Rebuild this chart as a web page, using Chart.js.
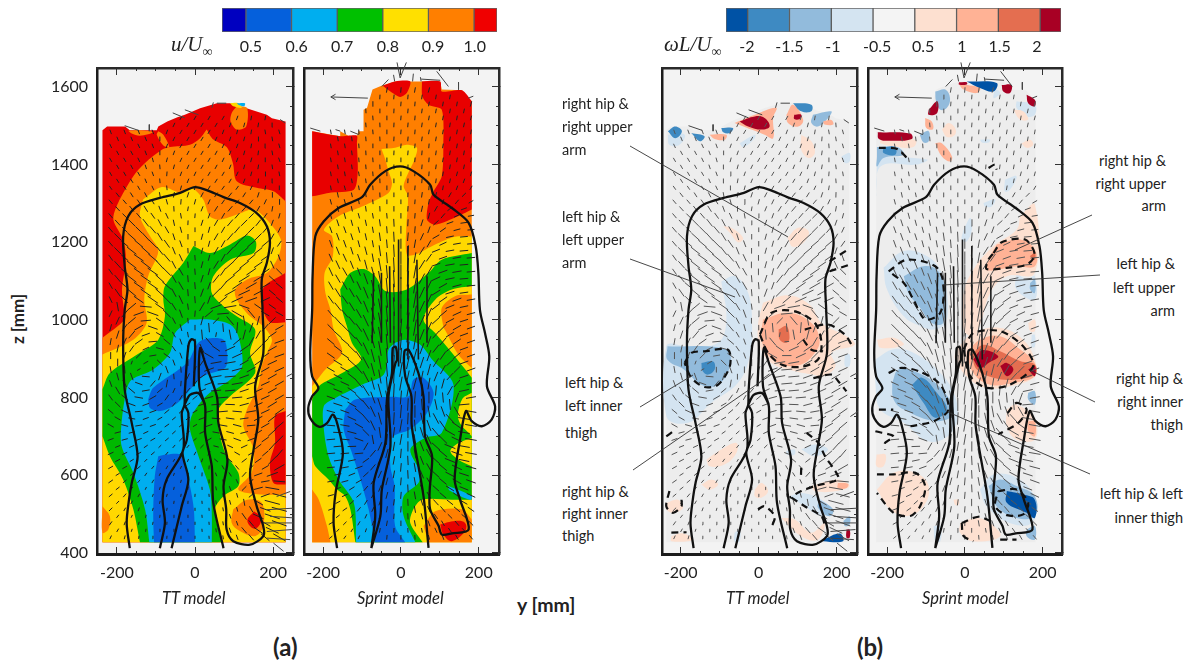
<!DOCTYPE html>
<html>
<head>
<meta charset="utf-8">
<title>Wake flow maps</title>
<script src="https://cdn.jsdelivr.net/npm/chart.js@4"></script>
<style>
    html, body { margin: 0; background: #fff; }
    #page { position: relative; width: 1189px; height: 663px; overflow: hidden; font-family: Lato, sans-serif; color: #222; }
    #page canvas { position: absolute; }
    #page svg { position: absolute; left: 0; top: 0; }
    .txt { position: absolute; white-space: nowrap; transform: translateY(-50%); }
    .note { font-size: 14.5px; }
    .math { font-family: "Liberation Serif", serif; font-style: italic; font-size: 21px; }
    .math sub { font-size: 14px; font-style: normal; }
</style>
</head>
<body>
<div id="page"></div>
<script>
// axes
const yTicks = [-200, 0, 200];
const yMinor = [-200, -150, -100, -50, 0, 50, 100, 150, 200];
const zTicks = [400, 600, 800, 1000, 1200, 1400, 1600];
const zMinor = [400, 450, 500, 550, 600, 650, 700, 750, 800, 850, 900, 950, 1000, 1050, 1100, 1150, 1200, 1250, 1300, 1350, 1400, 1450, 1500, 1550, 1600];

// colour bars
const uEdges = [0.4475, 0.5, 0.6, 0.7, 0.8, 0.9, 1.0, 1.0503];
const uColors = ['#0000c0', '#0560dc', '#00aeef', '#00c000', '#ffe000', '#ff7f00', '#f00000'];
const uTickPos = [0.511, 0.611, 0.711, 0.811, 0.910, 1.0015];
const uTickLabels = ['0.5', '0.6', '0.7', '0.8', '0.9', '1.0'];
const wEdges = [-0.52, 0, 1, 2, 3, 4, 5, 6, 7, 7.5];
const wColors = ['#0052a5', '#3e8ac2', '#92bbdc', '#d4e4f1', '#f4f4f4', '#fde0d0', '#ffb295', '#e46e50', '#a80024'];
const wTickPos = [-0.02, 1.0, 2.04, 3.1, 4.2, 5.13, 6.03, 6.92];
const wTickLabels = ['-2', '-1.5', '-1', '-0.5', '0.5', '1', '1.5', '2'];

// measurement area outlines, [y, z, y, z, ...] in mm
const ttOutline = [-237,427,-237,1488,-225,1498,-179,1498,-167,1488,-98,1488,-94,1498,-71,1511,-45,1522,-26,1528,13,1545,56,1558,90,1558,132,1545,184,1528,197,1519,232,1511,232,427];
const spOutline = [-228,427,-228,1486,-156,1473,-156,1486,-135,1474,-113,1474,-109,1486,-96,1486,-96,1541,-87,1546,-73,1593,-50,1603,-15,1614,101,1614,105,1593,157,1591,170,1576,182,1563,182,427];

// body silhouettes
const ttBody = [
    [-167,412,-175,477,-168,545,-162,580,-147,648,-162,734,-180,820,-184,940,-180,1026,-173,1078,-180,1138,-184,1215,-171,1267,-141,1297,-90,1314,-38,1327,0,1342,38,1331,73,1316,115,1301,158,1275,184,1241,192,1198,184,1147,171,1104,173,1026,175,914,154,829,162,743,150,666,141,597,158,520,175,468,175,443,141,421,98,430,81,460,80,511,73,571,83,640,60,734,56,803,26,889,13,927,11,829,26,777,26,708,43,623,47,528,73,412],
    [-90,412,-77,477,-83,537,-73,588,-30,666,-34,760,-27,781,-26,816,-17,932,-9,950,0,944,-3,829],
    [-60,412,-34,520,-17,588,-32,657,-21,691,-17,760,-27,781],
    [-27,781,-13,807,9,811,26,781]
];
const spBody = [
    [-164,412,-173,477,-168,554,-149,657,-164,734,-175,756,-190,734,-211,725,-233,747,-238,773,-228,803,-212,824,-228,854,-233,914,-228,1026,-227,1112,-220,1215,-198,1254,-160,1288,-100,1316,-79,1348,-40,1383,-2,1395,32,1383,75,1348,84,1322,131,1288,174,1250,192,1190,199,1121,203,1026,216,966,227,906,221,829,242,777,233,743,208,726,182,739,167,765,152,692,138,589,152,537,174,460,131,450,105,447,97,469,75,512,74,563,80,649,62,700,58,803,45,863,20,923,9,919,11,855,27,803,28,726,58,546,71,413],
    [-76,412,-66,494,-70,580,-40,683,-36,794,-23,863,-21,927,-13,930,-10,897,-14,889,-32,803,-27,674,-49,563,-53,494,-76,412]
];
const spStreaks = [
    [-70,1121,-74,940], [-50,1121,-50,941], [-29,1138,-27,941], [-6,1207,-6,880],
    [18,1190,18,898], [41,1155,45,898], [67,1112,67,941]
];

// stray long vectors at the edges of the measured area
const ttSpikes = [
    [-57,1533,-26,1520], [-26,1541,9,1528], [-180,1500,-145,1488], [-117,1503,-117,1486], [47,1560,43,1546], [56,1558,80,1558], [218,1516,231,1507],
    [184,511,252,515], [192,494,252,490], [175,477,252,477], [184,455,248,460], [184,438,244,434], [201,425,227,404], [209,545,244,558], [235,751,254,764], [235,854,252,863]
];
const spSpikes = [
    [-10,1663,-2,1623], [14,1663,-2,1623], [-19,1631,-16,1614], [32,1634,30,1614], [50,1625,52,1614], [52,1620,101,1617], [92,1640,122,1601],
    [148,1612,148,1593], [173,1571,186,1576], [-49,1601,-32,1619], [-233,1494,-207,1486], [-168,1490,-156,1486], [-130,1486,-108,1477],
    [-85,1571,-180,1574], [-180,1574,-168,1581], [-180,1574,-168,1567]
];

// u/Uinf contours, TT model
const ttUOrange = [
    [30,1490,45,1466,81,1445,97,1404,107,1357,158,1340,201,1331,232,1305,232,1305,232,1121,232,1121,175,1082,175,1026,192,994,232,994,232,994,232,427,232,427,-237,427,-237,427,-237,954,-237,954,-180,1001,-182,1026,-187,1078,-177,1155,-184,1207,-209,1258,-197,1301,-158,1370,-128,1404,-85,1438,-64,1445,-13,1451,13,1468],
    [107,1550,133,1546,131,1498,107,1490,91,1511,94,1533],
    [-171,1487,-141,1488,-107,1483,-141,1474,-162,1480],
    [-94,1486,-81,1477,-66,1445,-81,1449,-98,1477]
];
const ttURed = [[232,765,232,765,205,752,205,683,192,632,201,580,232,576,232,576]];
const ttUYellow = [
    [-133,1310,-85,1342,-34,1327,-9,1340,21,1310,38,1267,64,1258,107,1271,150,1284,184,1258,220,1207,214,1164,184,1121,133,1104,103,1078,107,1052,141,1009,175,983,197,949,184,915,171,881,162,829,133,769,124,726,150,666,145,606,111,563,167,550,232,550,232,550,232,427,232,427,-237,427,-237,427,-237,911,-237,911,-158,949,-124,992,-130,1052,-120,1112,-94,1177,-115,1215,-141,1267],
    [90,1558,111,1558,120,1546,98,1550]
];
const ttUOrange2 = [
    [98,512,133,537,171,529,175,469,154,443,115,456,94,477],
    [-237,520,-218,494,-222,460,-237,452]
];
const ttURed2 = [[151,507,171,490,154,462,134,482]];
const ttUGreen = [[-4,1190,38,1172,90,1194,133,1217,156,1202,150,1172,90,1155,47,1112,43,1069,73,1035,107,1009,154,975,141,915,154,863,90,803,60,769,60,726,77,658,111,606,111,572,73,546,51,512,68,427,68,427,-141,427,-141,427,-158,512,-184,589,-218,649,-237,700,-237,700,-237,821,-237,821,-218,863,-141,915,-94,949,-77,1009,-81,1052,-77,1087,-30,1147]];
const ttUSky = [
    [-13,1001,38,1001,90,988,111,958,121,881,90,846,38,812,13,786,-9,752,-13,718,9,649,38,563,43,503,43,427,43,427,-117,427,-117,427,-128,512,-158,606,-188,675,-188,735,-175,821,-162,846,-107,872,-64,915,-51,966],
    [107,1558,128,1558,126,1550,111,1554]
];
const ttUBlue = [
    [-120,795,-107,825,-21,889,13,945,73,949,83,906,77,876,21,855,-13,820,-26,803,-56,778,-90,765,-115,773],
    [-94,649,-73,653,-38,653,-26,623,-13,572,-3,512,0,427,0,427,-105,427,-105,427,-107,503,-103,597]
];

// u/Uinf contours, Sprint model
const spURed = [
    [-228,1486,-156,1473,-135,1474,-113,1474,-113,1455,-111,1378,-121,1335,-186,1327,-228,1318,-228,1318],
    [-47,1603,-15,1614,24,1614,15,1584,-2,1574,-27,1588],
    [54,1614,101,1614,105,1588,157,1591,182,1563,182,1563,182,1284,182,1284,147,1267,88,1245,67,1258,71,1301,84,1331,105,1370,109,1447,105,1541,71,1554,55,1576]
];
const spUYellow = [[-50,1440,-15,1443,15,1451,41,1443,35,1413,15,1370,7,1344,18,1318,14,1241,15,1168,37,1168,88,1194,139,1214,182,1215,182,1215,182,427,182,427,-228,427,-228,427,-228,829,-228,829,-215,846,-194,872,-151,915,-173,975,-181,1026,-194,1069,-196,1121,-175,1164,-177,1215,-198,1232,-160,1267,-100,1292,-32,1327,-23,1353,-32,1383,-40,1413]];
const spUOrange = [
    [182,1065,182,1065,139,1061,105,1031,109,983,115,971,147,911,182,876,182,876],
    [58,469,88,507,156,512,182,486,182,486,182,427,182,427,71,427,71,427],
    [-228,563,-211,537,-190,469,-181,427,-181,427,-228,427,-228,427]
];
const spURed2 = [[101,473,139,482,165,477,165,456,131,430,109,447]];
const spUGreen = [[-156,1078,-130,1121,-96,1131,-66,1112,-40,1074,15,1078,71,1121,105,1155,182,1172,182,1172,182,1087,182,1087,131,1078,88,1052,58,1001,88,966,131,915,182,851,182,851,182,537,182,537,131,537,54,537,32,512,24,477,56,427,56,427,-117,427,-117,427,-130,512,-143,546,-164,563,-186,589,-220,623,-228,649,-228,649,-228,795,-228,795,-211,829,-151,863,-102,898,-126,941,-139,984,-151,1026]];
const spUYellow2 = [
    [182,812,157,795,148,743,182,700,182,700],
    [182,696,148,683,127,662,148,640,182,623,182,623]
];
const spUSky = [
    [-15,941,11,949,50,936,80,898,135,833,105,709,62,696,24,666,50,606,45,580,7,546,7,495,37,427,37,427,-115,427,-115,427,-121,529,-160,589,-186,649,-198,718,-198,778,-168,799,-100,833,-44,859,-32,923],
    [122,572,182,546,178,536,124,561]
];
const spUBlue = [[-143,769,-117,795,-23,802,20,803,32,846,58,851,84,812,67,760,24,718,-23,696,-27,623,-16,572,-15,469,11,427,11,427,-66,427,-66,427,-83,512,-104,589,-126,658,-147,718]];

// vorticity blobs, TT model
const ttWPale = [
    [-233,1477,-190,1477,-203,1451,-229,1451],
    [-49,1455,-10,1477,-10,1468,-40,1445],
    [212,1421,233,1430,233,1408,221,1404],
    [-96,1099,-61,1112,-27,1069,-17,984,-23,906,-53,838,-122,786,-181,735,-237,752,-237,932,-181,932,-104,941,-83,1001],
    [71,662,92,666,92,653,71,653],
    [109,666,144,679,178,666,144,649],
    [79,546,109,554,161,537,191,503,161,494,118,520],
    [-62,452,-49,460,-49,430,-62,430],
    [221,911,233,911,233,881,221,881]
];
const ttWPeach = [
    [109,1477,135,1460,144,1430,127,1417,109,1438],
    [74,1211,101,1237,128,1228,118,1202,88,1188],
    [-91,1241,-70,1237,-40,1211,-53,1200,-74,1224],
    [11,1044,75,1063,131,1039,161,992,225,958,246,936,186,915,197,881,167,855,137,859,92,868,32,889,3,932,-2,984],
    [-134,640,-96,666,-57,683,-57,658,-87,628,-126,623],
    [-147,576,-121,589,-104,576,-126,563],
    [-10,563,7,580,24,559,7,542,-10,546],
    [-237,529,-207,537,-194,516,-220,503,-237,512],
    [-224,443,-194,450,-168,434,-224,430],
    [135,572,203,589,233,572,199,559,144,559],
    [58,490,92,486,135,452,169,477,152,434,109,443]
];
const ttWMid = [
    [-234,932,-83,924,-74,881,-104,833,-147,833,-190,871,-234,897],
    [139,1528,186,1537,178,1520,152,1498,135,1507],
    [156,537,191,512,182,494,152,516],
    [217,482,233,494,233,473,221,469]
];
const ttWSalmon = [
    [-62,1507,-10,1528,45,1546,37,1520,37,1468,15,1477,-19,1490],
    [-126,1477,-83,1477,-87,1464,-113,1466],
    [71,1528,88,1554,114,1515,101,1498,75,1507],
    [165,1511,186,1515,191,1503,169,1503],
    [11,1001,75,1018,135,992,156,949,144,915,109,885,58,885,20,915,7,958],
    [203,580,229,578,225,567,203,567]
];
const ttWBlue = [
    [-233,1486,-214,1498,-197,1486,-214,1468],
    [-173,1481,-139,1473,-151,1460],
    [-96,1494,-66,1494,-74,1481,-91,1483],
    [88,1558,135,1554,135,1537,109,1537],
    [-147,889,-117,893,-113,872,-130,859,-144,868]
];
const ttWRed = [
    [51,975,71,984,79,954,71,941,54,949]
];
const ttWDark = [
    [165,434,208,450,216,430,165,430]
];
const ttWCrimson = [
    [-49,1511,-10,1524,15,1520,28,1498,7,1490,-27,1498],
    [91,1528,109,1528,105,1517,91,1517],
    [225,460,233,460,233,439,225,439]
];
const ttWDashed = [
    [-190,889,-173,915,-139,919,-79,923,-74,881,-104,833,-139,827,-173,851,-190,889],
    [3,962,32,1018,92,1022,144,992,161,941,152,898,109,879,58,885,24,915,3,962],
    [118,975,178,988,221,962,238,936],
    [114,949,135,923,165,919],
    [140,850,187,859,204,842,225,816],
    [123,709,153,683,170,649,199,606,204,589,144,572,109,559,79,542],
    [109,619,108,589],
    [84,542,118,520,161,494,170,469],
    [-2,512,15,520,41,494,32,464],
    [-229,559,-237,520,-220,503,-198,520,-198,537],
    [-224,452,-185,453],
    [182,1151,229,1181],
    [182,1125,233,1142],
    [-237,700,-219,713]
];

// vorticity blobs, Sprint model
const spWPale = [
    [-226,1421,-97,1413,-123,1400,-217,1395,-226,1318],
    [39,1464,65,1464,61,1457,44,1457],
    [103,1361,133,1370,116,1335,103,1331],
    [48,1301,78,1310,69,1292,52,1292],
    [-3,1232,14,1262,18,1232,5,1202,-8,1207],
    [133,1121,159,1104,180,1112,180,1052,133,1078],
    [-209,1134,-157,1177,-97,1164,-59,1121,-44,1052,-50,992,-80,975,-115,984,-157,1009,-200,1078],
    [-230,898,-183,924,-132,915,-63,863,-25,803,-21,735,-50,696,-97,688,-157,735,-217,769,-230,838],
    [172,961,180,961,180,931,172,931],
    [39,563,74,602,142,589,180,537,172,477,115,477,56,520],
    [-80,469,-63,469,-63,430,-76,430],
    [133,1563,180,1554,180,1528,159,1524,133,1546],
    [78,1597,91,1584,74,1571]
];
const spWPeach = [
    [-217,1464,-127,1464,-132,1445,-174,1445,-217,1455],
    [125,1541,150,1537,163,1516,142,1516],
    [-59,1490,-42,1507,-25,1494,-25,1477,-46,1471],
    [146,1455,168,1464,176,1451,159,1443],
    [142,1267,180,1297,180,1121,108,1112,65,1069,44,1001,22,958,-3,975,-3,1069,22,1129,74,1190,133,1232],
    [-21,924,22,966,91,979,150,949,180,898,180,855,116,829,56,825,14,846,-25,898],
    [108,769,133,782,180,743,180,692,133,692,108,726],
    [-226,949,-183,954,-157,936,-217,928],
    [-227,653,-204,653,-209,623,-227,623],
    [-226,563,-183,606,-127,606,-93,572,-106,520,-149,495,-192,512],
    [-12,477,31,490,65,477,91,443,22,430,-12,452],
    [-29,537,-16,537,-16,524,-25,524],
    [163,992,180,1001,180,971,168,971]
];
const spWMid = [
    [-226,1445,-174,1445,-157,1425,-209,1417,-226,1395,-226,1421],
    [-116,1477,-93,1486,-93,1460,-106,1457],
    [-76,1588,-50,1593,-38,1571,-46,1546,-63,1541,-74,1563],
    [168,1095,180,1104,180,1069,168,1078],
    [-157,1112,-106,1138,-68,1125,-50,1069,-56,992,-85,992,-115,1031,-145,1069],
    [-187,838,-170,872,-119,863,-59,821,-29,760,-72,739,-157,769,-183,795],
    [163,812,180,816,180,782,163,795],
    [61,572,91,589,133,572,180,546,180,494,133,490,82,520],
    [159,460,180,469,180,434,159,443]
];
const spWSalmon = [
    [-76,1455,-59,1455,-33,1421,-38,1408,-59,1421],
    [-102,1520,-85,1511,-82,1491,-99,1494],
    [-16,1608,39,1597,31,1584,-3,1593],
    [82,1194,142,1207,180,1181,180,1138,133,1138,56,1128,61,1155],
    [5,915,39,949,91,958,142,924,180,889,180,855,125,838,65,833,22,863],
    [163,739,180,739,180,700,163,713]
];
const spWBlue = [
    [-209,1445,-179,1445,-179,1425,-209,1430],
    [-136,833,-110,851,-72,812,-46,769,-76,748,-106,786]
];
const spWRed = [
    [167,1164,180,1172,180,1155],
    [18,911,48,936,91,919,142,894,180,885,180,859,125,846,74,851,31,872]
];
const spWDark = [
    [5,1614,82,1610,74,1588,39,1597],
    [108,559,150,550,180,537,180,490,159,503,108,529]
];
const spWCrimson = [
    [-224,1483,-140,1480,-136,1466,-192,1461,-221,1466],
    [-93,1541,-71,1563,-71,1533,-93,1528],
    [95,1605,120,1605,116,1584,99,1588],
    [-15,1612,5,1612,5,1606,-15,1606],
    [159,1580,180,1567,180,1550,163,1558],
    [22,898,44,922,86,906,61,889,39,876],
    [91,881,108,889,125,872,108,855],
    [163,872,180,881,180,855]
];
const spWDashed = [
    [-221,1443,-174,1440,-149,1417],
    [61,1391,78,1400,82,1387],
    [74,1172,95,1200,155,1207,180,1168,159,1142,108,1134,56,1131,61,1155,74,1172],
    [-196,1125,-149,1155,-76,1138,-55,1095,-63,1018,-102,1001,-132,1052,-157,1095,-196,1125],
    [-196,863,-167,876,-119,868,-63,833,-42,769,-80,739,-140,726],
    [-3,924,22,966,91,971,150,932,176,881,116,833,56,825,14,855,-3,924],
    [-221,769,-184,769],
    [-230,713,-183,700,-205,683,-205,666],
    [-226,602,-183,602,-127,606,-102,572,-115,520,-140,495,-183,503,-226,554],
    [110,760,133,786,159,769,138,735,86,705],
    [86,559,133,563,163,529,150,499,108,497,78,520,86,559],
    [-8,477,35,493,65,482],
    [-8,477,-3,443,22,430],
    [91,434,133,434]
];

// in-plane velocity field: dash angle from vertical (deg) and dash length (mm), rows top to bottom
const ttGridY = [-216, -180, -144, -108, -72, -36, 0, 36, 72, 108, 144, 180, 216];
const ttGridZ = [1520, 1484, 1448, 1412, 1376, 1340, 1304, 1268, 1232, 1196, 1160, 1124, 1088, 1052, 1016, 980, 944, 908, 872, 836, 800, 764, 728, 692, 656, 620, 584, 548, 512, 476, 440];
const ttAngle = [
    [null,null,null,null,null,30,30,30,30,20,10,10,null],
    [-20,-20,-20,-20,20,30,30,30,20,15,10,-10,-15],
    [-25,-25,-25,-20,20,30,30,30,25,20,10,-5,-15],
    [-30,-30,-25,-15,15,25,30,30,25,20,15,0,-20],
    [-30,-30,-30,-20,5,20,25,30,30,25,15,5,-10],
    [-35,-35,-30,-25,-5,15,20,30,35,35,25,10,0],
    [-40,-40,-35,-30,-15,5,15,25,35,40,40,25,5],
    [-40,-45,-40,-35,-25,-10,5,20,30,40,45,35,15],
    [-40,-45,-45,-40,-30,-15,0,15,30,40,45,40,25],
    [-40,-50,-50,-45,-35,-20,0,15,30,40,50,50,35],
    [-35,-50,-55,-50,-40,-25,-5,15,30,45,50,55,-20],
    [-35,-50,-55,-55,-45,-30,-5,15,35,50,55,55,-45],
    [-30,-50,-55,-55,-50,-30,-5,20,40,55,60,60,-50],
    [-25,-45,-55,-55,-45,-25,-5,20,50,65,70,65,-50],
    [25,40,70,-70,-45,-20,5,50,85,-60,-40,-60,-60],
    [15,35,60,-70,-40,-15,0,-5,-5,5,20,40,60],
    [10,25,55,85,-50,-20,5,-40,85,50,30,45,70],
    [0,20,45,80,-55,-20,10,-60,90,65,45,55,70],
    [-10,-5,60,-5,-20,-5,20,70,85,75,60,60,65],
    [-20,-30,-70,40,10,5,35,70,85,80,70,65,60],
    [-35,-50,-80,60,35,30,50,75,85,85,75,65,60],
    [-50,-65,85,70,50,45,60,75,85,-85,80,65,55],
    [-60,-75,80,70,55,50,60,70,-80,-75,85,60,50],
    [70,75,70,60,50,45,50,60,-80,-70,70,55,45],
    [65,65,60,50,40,35,30,30,-70,-60,60,50,40],
    [60,60,50,40,30,25,15,5,-30,-40,45,60,60],
    [55,50,40,30,20,15,10,0,-15,-25,40,80,-85],
    [50,40,30,20,15,10,5,-5,-10,-15,50,70,-75],
    [45,30,20,15,10,5,0,-5,-10,-15,-30,-70,-75],
    [35,20,15,10,5,0,0,-5,-10,-20,-40,-60,-70],
    [25,15,10,5,5,0,0,-5,-10,-20,-40,-50,-60]
];
const ttLength = [
    [0,0,0,0,0,12,12,12,12,12,12,12,0],
    [12,12,12,12,12,12,12,12,12,12,12,12,12],
    [12,12,12,12,12,12,12,12,12,12,12,12,12],
    [12,12,12,12,12,12,12,12,12,12,12,12,12],
    [12,12,12,12,12,12,12,12,12,12,12,12,12],
    [12,12,12,12,12,12,12,12,12,12,12,12,12],
    [14,14,14,14,14,14,14,14,14,14,14,14,14],
    [16,16,18,18,16,14,12,14,16,18,18,16,14],
    [18,20,24,24,20,16,12,16,18,22,22,20,16],
    [18,24,28,28,24,18,14,16,20,24,26,24,18],
    [18,24,30,30,26,20,14,16,22,26,28,26,18],
    [18,24,30,32,28,22,16,18,24,28,30,26,22],
    [18,24,30,32,30,24,18,20,26,30,32,28,22],
    [18,24,30,32,30,24,18,22,28,32,32,26,22],
    [18,24,28,30,28,22,16,26,30,32,28,24,22],
    [18,22,26,26,24,18,14,24,22,28,26,24,24],
    [18,22,24,22,22,16,14,26,12,26,26,24,26],
    [18,20,20,18,20,16,16,26,24,28,26,24,26],
    [18,20,10,14,20,16,18,26,28,28,26,24,26],
    [18,20,20,20,20,14,18,24,28,28,26,24,26],
    [18,22,22,20,18,14,16,22,26,26,24,24,26],
    [18,20,20,18,16,14,14,20,24,24,24,24,28],
    [18,18,18,16,14,12,12,18,22,22,22,24,28],
    [16,16,16,14,12,12,10,14,18,20,20,22,28],
    [16,14,14,12,10,10,10,12,14,16,18,20,26],
    [14,14,12,10,10,8,8,10,12,14,16,20,30],
    [14,12,10,10,8,8,8,10,10,12,16,22,30],
    [12,12,10,8,8,8,8,8,10,12,16,24,36],
    [12,10,10,8,8,8,8,8,10,12,18,28,40],
    [12,10,8,8,8,8,8,8,10,12,20,30,40],
    [10,10,8,8,8,8,8,8,10,14,20,28,36]
];
// dashes that sit between the main grid points
const ttGridY2 = [-198, -162, -126, -90, -54, -18, 18, 54, 90, 126, 162, 198];
const ttGridZ2 = [1502, 1466, 1430, 1394, 1358, 1322, 1286, 1250, 1214, 1178, 1142, 1106, 1070, 1034, 998, 962, 926, 890, 854, 818, 782, 746, 710, 674, 638, 602, 566, 530, 494, 458];
const ttAngle2 = [
    [null,null,null,null,25,30,30,30,20,15,10,-5],
    [-22,-22,-22,0,25,30,30,25,18,15,5,-10],
    [-28,-28,-20,0,20,28,30,28,22,15,8,-10],
    [-30,-28,-18,-5,15,25,30,28,22,15,10,-8],
    [-32,-32,-22,-5,10,22,28,32,30,20,8,-5],
    [-38,-32,-28,-10,10,18,28,35,38,32,18,2],
    [-42,-38,-32,-20,-3,10,22,32,40,42,30,10],
    [-42,-45,-38,-28,-12,3,18,30,40,45,38,20],
    [-45,-48,-42,-32,-18,0,15,30,40,48,45,30],
    [-45,-52,-48,-38,-22,-3,15,30,42,50,52,20],
    [-42,-52,-52,-42,-28,-5,15,32,48,52,55,-25],
    [-40,-52,-55,-48,-30,-5,18,38,52,58,58,-48],
    [-35,-50,-55,-48,-28,-5,20,45,60,65,62,-50],
    [-10,50,-85,-55,-32,-8,30,70,80,-70,-55,-55],
    [25,50,85,-55,-28,-5,15,45,-40,-10,15,45],
    [18,40,70,-60,-30,-10,-5,10,-10,15,30,55],
    [12,35,65,-75,-35,-10,-25,-55,65,55,45,60],
    [0,20,60,-45,-20,0,35,80,80,60,55,65],
    [-15,-20,-85,20,-5,25,55,80,85,70,62,60],
    [-30,-50,80,50,25,40,65,85,85,72,65,60],
    [-45,-70,70,60,40,55,70,85,-88,75,65,58],
    [-60,-80,70,60,50,55,70,-85,-82,82,62,52],
    [75,75,65,55,48,52,65,-80,-75,75,58,48],
    [68,65,55,45,40,40,45,-75,-65,65,52,42],
    [62,58,45,35,30,22,18,-50,-50,52,55,45],
    [58,50,35,25,20,12,3,-22,-32,42,70,70],
    [52,40,25,18,12,8,-3,-12,-20,45,75,-80],
    [45,30,18,12,8,3,-5,-10,-15,-10,-60,-75],
    [38,25,15,8,3,0,-5,-10,-18,-35,-65,-72],
    [30,18,10,5,3,0,-5,-10,-20,-40,-55,-65]
];
const spGridY = [-180, -144, -108, -72, -36, 0, 36, 72, 108, 144, 180];
const spGridZ = [1592, 1556, 1520, 1484, 1448, 1412, 1376, 1340, 1304, 1268, 1232, 1196, 1160, 1124, 1088, 1052, 1016, 980, 944, 908, 872, 836, 800, 764, 728, 692, 656, 620, 584, 548, 512, 476, 440];
const spAngle = [
    [null,null,null,null,10,5,10,15,null,null,null],
    [null,null,null,0,5,5,5,10,10,10,15],
    [null,null,null,-5,0,5,5,10,10,10,15],
    [-10,-10,-5,-5,0,5,5,10,10,10,10],
    [-10,-10,-5,0,0,5,5,5,10,10,10],
    [-10,-10,-5,-5,0,0,5,5,10,10,10],
    [-10,-10,-10,-5,0,0,5,5,10,15,15],
    [-10,-15,-10,-5,0,0,5,5,10,20,30],
    [-15,-15,-10,-5,0,0,5,10,20,40,60],
    [-15,-15,-15,-10,-5,0,5,15,40,65,80],
    [-20,-20,-15,-10,-5,0,5,20,55,75,85],
    [-20,-20,-15,-10,-5,0,10,30,65,80,85],
    [-25,-25,-20,-10,-5,0,10,35,70,80,85],
    [-25,-30,-20,-15,-5,0,10,30,70,80,85],
    [-30,-30,-25,-15,-5,0,10,25,60,75,85],
    [-35,-35,-30,-15,-5,0,10,25,55,70,80],
    [-40,-40,-30,-15,-5,0,10,25,50,65,75],
    [-45,-45,-35,-15,-5,5,10,25,45,60,70],
    [-50,-50,-35,-15,-5,5,10,20,40,55,70],
    [-55,-55,-35,-15,-5,5,15,20,35,50,70],
    [-60,-60,-40,-15,-5,10,15,15,30,45,70],
    [-65,-65,-40,-15,-5,10,15,10,15,40,75],
    [-70,-65,-45,-20,-10,5,5,0,-5,20,80],
    [-75,-70,-50,-25,-10,5,0,-10,-20,-30,-80],
    [-85,-80,-60,-25,-5,10,-5,-20,-35,-55,-80],
    [85,-85,-70,-10,5,10,-10,-25,-45,-65,-80],
    [85,85,85,40,15,5,-10,-30,-50,-70,-80],
    [85,80,70,40,15,5,-10,-30,-50,-65,-75],
    [80,75,60,35,15,5,-10,-30,-50,-60,-70],
    [75,65,50,30,15,5,-10,-30,-50,-55,-65],
    [70,55,40,25,10,5,-10,-25,-40,-50,-55],
    [60,45,30,20,10,0,-10,-20,-30,-40,-45],
    [50,35,25,15,5,0,-5,-15,-20,-30,-40]
];
const spLength = [
    [0,0,0,0,14,14,14,14,0,0,0],
    [0,0,0,14,12,12,12,12,12,12,14],
    [0,0,0,12,12,12,12,12,12,12,12],
    [12,12,12,12,12,12,12,12,12,12,12],
    [12,12,12,12,12,12,12,12,12,12,12],
    [12,12,12,12,12,12,12,12,12,12,12],
    [12,12,12,12,12,12,12,12,12,12,12],
    [12,12,12,12,12,12,12,12,12,12,12],
    [14,14,12,12,12,12,12,14,14,14,14],
    [16,16,14,14,14,14,14,16,16,16,16],
    [18,18,16,16,18,20,18,18,18,18,18],
    [20,20,18,18,22,26,22,20,20,20,20],
    [22,22,20,22,28,32,28,24,22,22,22],
    [24,24,22,26,34,38,34,28,24,24,22],
    [24,24,24,30,40,44,40,30,24,24,22],
    [24,26,26,32,42,46,42,32,26,24,22],
    [24,26,26,32,42,48,42,32,26,24,22],
    [24,26,26,32,42,46,42,32,26,24,22],
    [24,26,28,34,40,44,40,30,26,24,22],
    [24,26,28,34,38,40,36,30,26,24,22],
    [22,26,28,34,36,38,34,30,26,24,24],
    [22,24,28,32,36,36,32,30,26,24,24],
    [22,24,26,32,36,36,32,30,26,26,26],
    [22,24,26,30,34,34,32,30,28,28,28],
    [22,24,24,28,32,32,30,30,30,30,30],
    [22,24,24,24,28,28,28,28,30,30,30],
    [22,22,22,22,24,24,26,26,28,30,30],
    [20,20,20,20,22,22,24,24,26,28,28],
    [18,18,18,18,20,20,22,22,24,26,26],
    [16,16,16,16,18,18,20,20,22,24,24],
    [14,14,14,14,16,16,18,18,20,20,20],
    [12,12,12,12,14,14,16,16,16,16,16],
    [10,10,10,10,12,12,12,12,14,14,14]
];
const spGridY2 = [-162, -126, -90, -54, -18, 18, 54, 90, 126, 162];
const spGridZ2 = [1574, 1538, 1502, 1466, 1430, 1394, 1358, 1322, 1286, 1250, 1214, 1178, 1142, 1106, 1070, 1034, 998, 962, 926, 890, 854, 818, 782, 746, 710, 674, 638, 602, 566, 530, 494, 458];
const spAngle2 = [
    [null,null,null,3,5,5,8,10,10,null],
    [null,null,-3,0,3,5,8,10,10,12],
    [null,null,-5,-3,3,5,8,10,10,12],
    [-10,-8,-5,-3,3,5,8,10,10,10],
    [-10,-8,-3,0,3,5,5,8,10,10],
    [-10,-8,-5,-3,0,3,5,8,10,12],
    [-12,-10,-8,-3,0,3,5,8,12,20],
    [-12,-12,-8,-3,0,3,8,15,30,45],
    [-15,-12,-8,-3,0,3,12,30,52,70],
    [-18,-15,-12,-8,-3,3,18,48,70,82],
    [-20,-18,-12,-8,-3,5,25,60,78,85],
    [-22,-18,-15,-8,-3,5,32,68,80,85],
    [-25,-22,-15,-10,-3,5,32,70,80,85],
    [-30,-25,-20,-10,-3,5,28,65,78,85],
    [-32,-30,-22,-10,-3,5,25,58,72,82],
    [-38,-32,-22,-10,-3,5,25,52,68,78],
    [-42,-38,-25,-10,0,8,25,48,62,72],
    [-48,-42,-25,-10,0,8,22,42,58,70],
    [-52,-45,-25,-10,0,10,20,38,52,70],
    [-58,-48,-28,-10,3,12,18,32,48,70],
    [-62,-52,-28,-10,3,12,12,22,42,72],
    [-68,-55,-32,-15,3,10,5,5,30,78],
    [-72,-60,-38,-18,0,3,-5,-12,-5,85],
    [-78,-65,-40,-15,3,3,-12,-28,-42,-80],
    [-88,-75,-45,-8,8,0,-18,-40,-60,-80],
    [85,88,30,25,10,0,-22,-48,-68,-80],
    [82,78,55,28,10,-3,-22,-48,-68,-78],
    [78,68,48,25,10,-3,-22,-48,-62,-72],
    [70,58,40,22,10,-3,-22,-48,-58,-68],
    [62,48,32,18,8,-3,-18,-42,-52,-60],
    [52,38,25,15,5,-3,-15,-35,-45,-50],
    [42,30,18,10,3,-3,-10,-25,-35,-42]
];

const page = document.getElementById('page');

// [y, z, y, z...] -> chart points
function toPoints(flat) {
    const pts = [];
    for (let i = 0; i < flat.length; i += 2) pts.push({ x: flat[i], y: flat[i + 1] });
    return pts;
}

// filled closed shape
function shape(flat, color, tension) {
    const pts = toPoints(flat);
    pts.push(pts[0]);
    return { data: pts, backgroundColor: color, borderWidth: 0, fill: 'shape', tension: tension, pointRadius: 0 };
}

function layer(polys, color, tension = 0.4) {
    return polys.map(p => shape(p, color, tension));
}

// several open lines in one dataset, split by gaps
function lines(list, color, width, extra = {}) {
    const pts = [];
    list.forEach(l => {
        pts.push(...toPoints(l));
        pts.push({ x: NaN, y: NaN });
    });
    return Object.assign({ data: pts, borderColor: color, borderWidth: width, pointRadius: 0, fill: false, tension: 0, spanGaps: false }, extra);
}

// short dashes of the velocity field, centred on the grid points
function dashes(gridY, gridZ, angle, length, color, shift = 0) {
    const segs = [];
    gridZ.forEach((z, r) => {
        gridY.forEach((y, c) => {
            const a = angle[r][c];
            if (a === null) return;
            const rad = a * Math.PI / 180;
            const h = length[r + shift][c + shift] / 2;
            segs.push([y - h * Math.sin(rad), z - h * Math.cos(rad), y + h * Math.sin(rad), z + h * Math.cos(rad)]);
        });
    });
    return lines(segs, color, 1);
}

function fixedTicks(values) {
    return axis => { axis.ticks = values.map(v => ({ value: v })); };
}

function hiddenLabels(values, len, min, max, side) {
    const o = {
        type: 'linear', min, max,
        position: side,
        afterBuildTicks: fixedTicks(values),
        ticks: { display: false, autoSkip: false },
        grid: { drawOnChartArea: false, tickLength: -len, tickColor: '#333', tickWidth: 1 },
        border: { display: false }
    };
    if (side === 'top' || side === 'bottom') o.afterFit = a => { a.height = 0; };
    else o.afterFit = a => { a.width = 0; };
    return o;
}

function makePanel(left, width, xMin, xMax, showZ, datasets) {
    const padL = showZ ? 60 : 30;
    const padR = 30;
    const top = 40;
    const canvas = document.createElement('canvas');
    const w = padL + width + padR;
    const h = 28 + 486 + 34;
    canvas.width = w;
    canvas.height = h;
    canvas.style.left = (left - padL) + 'px';
    canvas.style.top = top + 'px';
    page.appendChild(canvas);
    const zMin = 397, zMax = 1648.6;
    datasets.forEach((d, i) => { d.order = -i; });

    new Chart(canvas.getContext('2d'), {
        type: 'line',
        data: { datasets },
        options: {
            responsive: false,
            animation: false,
            events: [],
            layout: { autoPadding: false, padding: { top: 28, right: padR, bottom: 0, left: showZ ? 0 : padL } },
            plugins: { legend: { display: false }, tooltip: { enabled: false } },
            scales: {
                x: {
                    type: 'linear', min: xMin, max: xMax, position: 'bottom', weight: 1,
                    afterBuildTicks: fixedTicks(yTicks),
                    afterFit: a => { a.height = 34; },
                    ticks: { autoSkip: false, maxRotation: 0, padding: 16, color: '#222', font: { family: 'Lato', size: 16 }, callback: v => v },
                    grid: { drawOnChartArea: false, tickLength: -7, tickColor: '#333' },
                    border: { color: '#1c1c1c', width: 3 }
                },
                y: {
                    type: 'linear', min: zMin, max: zMax, position: 'left',
                    afterBuildTicks: fixedTicks(zTicks),
                    afterFit: a => { a.width = showZ ? padL : 0; },
                    ticks: { display: showZ, autoSkip: false, padding: 9, color: '#222', font: { family: 'Lato', size: 16 }, callback: v => v },
                    grid: { drawOnChartArea: false, drawTicks: false },
                    border: { color: '#1c1c1c', width: 2.5 }
                },
                xMinorBottom: Object.assign(hiddenLabels(yMinor, 3, xMin, xMax, 'bottom'), { weight: -1 }),
                xMajorTop: Object.assign(hiddenLabels(yTicks, 7, xMin, xMax, 'top'), { border: { display: true, color: '#2a2a2a', width: 2.5 } }),
                xMinorTop: hiddenLabels(yMinor, 3, xMin, xMax, 'top'),
                yMajorRight: Object.assign(hiddenLabels(zTicks, 7, zMin, zMax, 'right'), { border: { display: true, color: '#2a2a2a', width: 2.5 } }),
                yMinorRight: hiddenLabels(zMinor, 3, zMin, zMax, 'right')
            }
        },
        plugins: [{
            id: 'panelBg',
            beforeDraw(c) {
                const a = c.chartArea;
                c.ctx.fillStyle = '#f3f3f3';
                c.ctx.fillRect(a.left, a.top, a.width, a.height);
            }
        }]
    });
}

function makeColorBar(left, width, edges, colors, tickPos, tickLabels) {
    const canvas = document.createElement('canvas');
    canvas.width = width;
    canvas.height = 60;
    canvas.style.left = left + 'px';
    canvas.style.top = '0px';
    page.appendChild(canvas);
    const datasets = colors.map((col, i) => ({
        data: [[edges[i], edges[i + 1]]],
        backgroundColor: col,
        borderColor: 'rgba(50,50,50,0.75)',
        borderWidth: 1,
        borderSkipped: false,
        grouped: false,
        barPercentage: 1,
        categoryPercentage: 1
    }));
    new Chart(canvas.getContext('2d'), {
        type: 'bar',
        data: { labels: [''], datasets },
        options: {
            indexAxis: 'y',
            responsive: false,
            animation: false,
            events: [],
            layout: { autoPadding: false, padding: { top: 8, left: 0, right: 0, bottom: 0 } },
            plugins: { legend: { display: false }, tooltip: { enabled: false } },
            scales: {
                x: {
                    type: 'linear', min: edges[0], max: edges[edges.length - 1],
                    afterBuildTicks: fixedTicks(tickPos),
                    afterFit: a => { a.height = 28; },
                    ticks: { autoSkip: false, maxRotation: 0, padding: 5, color: '#222', font: { family: 'Lato', size: 16 }, callback: (v, i) => tickLabels[i] },
                    grid: { display: false, drawTicks: false },
                    border: { display: false }
                },
                y: { display: false }
            }
        }
    });
}

// colour bars
makeColorBar(222, 275, uEdges, uColors, uTickPos, uTickLabels);
makeColorBar(726, 335, wEdges, wColors, wTickPos, wTickLabels);

const streaks = () => lines(spStreaks, '#1a1a1a', 1.6);
const spikesTT = () => lines(ttSpikes, '#444', 1, { clip: false });
const spikesSP = () => lines(spSpikes, '#444', 1, { clip: false });

// (a) u/Uinf
makePanel(97, 196, -251, 251, true, [
    shape(ttOutline, '#e80000', 0),
    ...layer(ttUOrange, '#ff7f00', 0.3),
    ...layer(ttURed, '#e80000', 0.3),
    ...layer(ttUYellow, '#ffd800', 0.3),
    ...layer(ttUOrange2, '#ff7f00', 0.35),
    ...layer(ttURed2, '#e80000', 0.4),
    ...layer(ttUGreen, '#00b800', 0.3),
    ...layer(ttUSky, '#00aeef', 0.3),
    ...layer(ttUBlue, '#0560dc', 0.3),
    dashes(ttGridY, ttGridZ, ttAngle, ttLength, '#222'),
    dashes(ttGridY2, ttGridZ2, ttAngle2, ttLength, '#222', 1),
    spikesTT(),
    lines(ttBody, '#111', 2.3, { tension: 0.3 })
]);

makePanel(304, 195, -249, 252, false, [
    shape(spOutline, '#ff7f00', 0),
    ...layer(spURed, '#e80000', 0.25),
    ...layer(spUYellow, '#ffd800', 0.3),
    ...layer(spUOrange, '#ff7f00', 0.3),
    ...layer(spUGreen, '#00b800', 0.3),
    ...layer(spUYellow2, '#ffd800', 0.35),
    ...layer(spUSky, '#00aeef', 0.3),
    ...layer(spUBlue, '#0560dc', 0.3),
    ...layer(spURed2, '#e80000', 0.4),
    dashes(spGridY, spGridZ, spAngle, spLength, '#222'),
    dashes(spGridY2, spGridZ2, spAngle2, spLength, '#222', 1),
    streaks(),
    spikesSP(),
    lines(spBody, '#111', 2.3, { tension: 0.3 })
]);

// (b) vorticity
makePanel(662, 195, -248, 252, false, [
    shape(ttOutline, '#ededed', 0),
    ...layer(ttWPale, '#d4e4f1'),
    ...layer(ttWPeach, '#fde0d0'),
    ...layer(ttWMid, '#92bbdc'),
    ...layer(ttWSalmon, '#ffb295'),
    ...layer(ttWBlue, '#3e8ac2'),
    ...layer(ttWRed, '#e46e50'),
    ...layer(ttWDark, '#0052a5'),
    ...layer(ttWCrimson, '#a80024'),
    dashes(ttGridY, ttGridZ, ttAngle, ttLength, '#555'),
    dashes(ttGridY2, ttGridZ2, ttAngle2, ttLength, '#555', 1),
    lines(ttWDashed, '#111', 2.2, { borderDash: [7, 5], tension: 0.3 }),
    spikesTT(),
    lines(ttBody, '#111', 2.3, { tension: 0.3 })
]);

makePanel(868, 194, -249, 250, false, [
    shape(spOutline, '#ededed', 0),
    ...layer(spWPale, '#d4e4f1'),
    ...layer(spWPeach, '#fde0d0'),
    ...layer(spWMid, '#92bbdc'),
    ...layer(spWSalmon, '#ffb295'),
    ...layer(spWBlue, '#3e8ac2'),
    ...layer(spWRed, '#e46e50'),
    ...layer(spWDark, '#0052a5'),
    ...layer(spWCrimson, '#a80024'),
    dashes(spGridY, spGridZ, spAngle, spLength, '#555'),
    dashes(spGridY2, spGridZ2, spAngle2, spLength, '#555', 1),
    streaks(),
    lines(spWDashed, '#111', 2.2, { borderDash: [7, 5], tension: 0.3 }),
    spikesSP(),
    lines(spBody, '#111', 2.3, { tension: 0.3 })
]);

// text
function addText(html, x, y, cls, style = '') {
    const el = document.createElement('div');
    el.className = 'txt ' + cls;
    el.innerHTML = html;
    el.style.cssText = `top:${y}px;` + style + (x < 0 ? `right:${-x}px;` : `left:${x}px;`);
    page.appendChild(el);
}

addText('u/U<sub>∞</sub>', 171, 46, 'math');
addText('ωL/U<sub>∞</sub>', 664, 46, 'math');
addText('z [mm]', 7, 319, '', 'font-weight:700;font-size:17px;writing-mode:vertical-rl;transform:translateY(-50%) rotate(180deg);');
addText('y [mm]', 517, 604, '', 'font-weight:700;font-size:19.5px;');
addText('(a)', 273, 646, '', 'font-weight:700;font-size:24px;');
addText('(b)', 857, 646, '', 'font-weight:700;font-size:24px;');
addText('TT model', 162, 598, '', 'font-style:italic;font-size:16.5px;');
addText('Sprint model', 357, 598, '', 'font-style:italic;font-size:16.5px;');
addText('TT model', 726, 598, '', 'font-style:italic;font-size:16.5px;');
addText('Sprint model', 922, 598, '', 'font-style:italic;font-size:16.5px;');

const notesLeft = [
    ['right hip &amp;', 562, 103], ['right upper', 562, 126], ['arm', 562, 149],
    ['left hip &amp;', 562, 216], ['left upper', 562, 239], ['arm', 562, 262],
    ['left hip &amp;', 565, 382], ['left inner', 565, 405], ['thigh', 565, 432],
    ['right hip &amp;', 562, 491], ['right inner', 562, 513], ['thigh', 562, 535]
];
const notesRight = [
    ['right hip &amp;', 1166, 160], ['right upper', 1166, 183], ['arm', 1166, 205],
    ['left hip &amp;', 1175, 263], ['left upper', 1175, 287], ['arm', 1175, 310],
    ['right hip &amp;', 1183, 378], ['right inner', 1183, 401], ['thigh', 1183, 424],
    ['left hip &amp; left', 1183, 493], ['inner thigh', 1183, 517]
];
notesLeft.forEach(n => addText(n[0], n[1], n[2], 'note'));
notesRight.forEach(n => addText(n[0], n[1] - 1189, n[2], 'note'));

// leader lines
const leaders = [
    [630,146,788,237], [630,259,735,297], [640,407,693,375], [633,470,782,367],
    [1092,215,1015,250], [1100,275,943,285], [1095,402,1030,370], [1090,474,948,412]
];
const svgNS = 'http://www.w3.org/2000/svg';
const svg = document.createElementNS(svgNS, 'svg');
svg.setAttribute('width', 1189);
svg.setAttribute('height', 663);
leaders.forEach(l => {
    const ln = document.createElementNS(svgNS, 'line');
    ln.setAttribute('x1', l[0]); ln.setAttribute('y1', l[1]);
    ln.setAttribute('x2', l[2]); ln.setAttribute('y2', l[3]);
    ln.setAttribute('stroke', '#333');
    ln.setAttribute('stroke-width', '0.9');
    svg.appendChild(ln);
});
page.appendChild(svg);
</script>
</body>
</html>
